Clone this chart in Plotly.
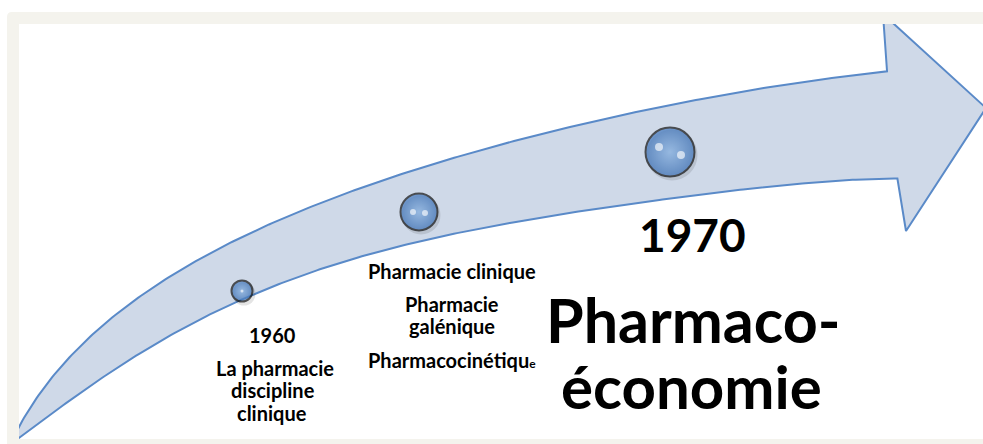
import numpy as np
import plotly.graph_objects as go

# ---------------- data ----------------
upper_x = [12, 19, 50, 80, 113, 147, 180, 213, 247, 280, 313, 347, 380, 400, 600, 700, 767, 833, 887]
upper_y = [438, 428, 382, 347, 317, 290, 270, 250, 235, 220, 207, 193, 182, 175, 118, 100, 88, 78, 71]
lower_x = [12, 19, 67, 100, 143, 180, 230, 280, 330, 380, 560, 620, 700, 767, 833, 897]
lower_y = [442, 437, 405, 383, 350, 327, 302, 283, 268, 255, 212, 205, 195, 187, 182, 178]
head_x = [883, 986, 906]
head_y = [14, 108, 231]

milestone_x = [242, 419, 670]
milestone_y = [291, 212, 152]
milestone_size = [21, 37, 49]
highlight_x = [242, 413, 425, 659, 681]
highlight_y = [291, 212, 213, 147, 155]
highlight_size = [3, 6, 6, 8, 8]

labels = [
    # (text, x, y, size)
    ("1960", 272, 335, 20),
    ("La pharmacie", 275, 368, 20),
    ("discipline", 273, 390, 20),
    ("clinique", 272, 413, 20),
    ("Pharmacie clinique", 452, 271, 20),
    ("Pharmacie", 452, 304, 20),
    ("galénique", 452, 326, 20),
    ("Pharmacocinétiqu<span style='font-size:12px'>e</span>", 452, 360, 20),
    ("1970", 692, 234, 46),
    ("Pharmaco-", 693, 319, 61),
    ("économie", 691, 386, 60),
]


def smooth_curve(xs, ys, deg=5, n=300):
    p = np.column_stack([xs, ys]).astype(float)
    d = np.r_[0, np.cumsum(np.hypot(*np.diff(p, axis=0).T))]
    t = d / d[-1]
    cx = np.polyfit(t, p[:, 0], deg)
    cy = np.polyfit(t, p[:, 1], deg)
    tt = np.linspace(0, 1, n)
    return np.polyval(cx, tt), np.polyval(cy, tt)


ux, uy = smooth_curve(upper_x, upper_y)
lx, ly = smooth_curve(lower_x, lower_y)

poly_x = list(ux) + [head_x[0], head_x[1], head_x[2]] + list(lx[::-1]) + [ux[0]]
poly_y = list(uy) + [head_y[0], head_y[1], head_y[2]] + list(ly[::-1]) + [uy[0]]

fig = go.Figure()

fig.add_trace(go.Scatter(
    x=poly_x, y=poly_y, mode="lines", fill="toself",
    fillcolor="#cfd9e8", line=dict(color="#5a8ac8", width=2),
    hoverinfo="skip", showlegend=False))

# shadows
fig.add_trace(go.Scatter(
    x=[x + 2 for x in milestone_x], y=[y + 3 for y in milestone_y], mode="markers",
    marker=dict(size=[s + 2 for s in milestone_size], color="rgba(0,0,0,0.15)", line=dict(width=0)),
    hoverinfo="skip", showlegend=False))

fig.add_trace(go.Scatter(
    x=milestone_x, y=milestone_y, mode="markers",
    marker=dict(size=milestone_size, color="#3d73ba",
                gradient=dict(type="radial", color="#88b5e8"),
                line=dict(color="#111111", width=2)),
    hoverinfo="skip", showlegend=False))

fig.add_trace(go.Scatter(
    x=highlight_x, y=highlight_y, mode="markers",
    marker=dict(size=highlight_size, color="rgba(255,255,255,0.9)", line=dict(width=0)),
    hoverinfo="skip", showlegend=False))

for text, x, y, size in labels:
    fig.add_annotation(x=x, y=y, text="<b>" + text + "</b>", showarrow=False,
                       xanchor="center", yanchor="middle",
                       font=dict(family="Lato", size=size, color="#000000"))

# frame band
fig.add_shape(type="path",
              path="M 7,444 L 7,17 Q 7,12 12,12 L 983,12 L 983,24 L 19,24 L 19,439 L 983,439 L 983,444 Z",
              fillcolor="#f4f3ed", line=dict(width=0), layer="above")

fig.update_xaxes(range=[0, 983], visible=False, fixedrange=True)
fig.update_yaxes(range=[444, 0], visible=False, fixedrange=True)
fig.update_layout(width=983, height=444, margin=dict(l=0, r=0, t=0, b=0),
                  paper_bgcolor="white", plot_bgcolor="white")

fig.write_html("out.html", config={"displayModeBar": False},
               post_script="document.body.style.margin='0';document.body.style.overflow='hidden';")
